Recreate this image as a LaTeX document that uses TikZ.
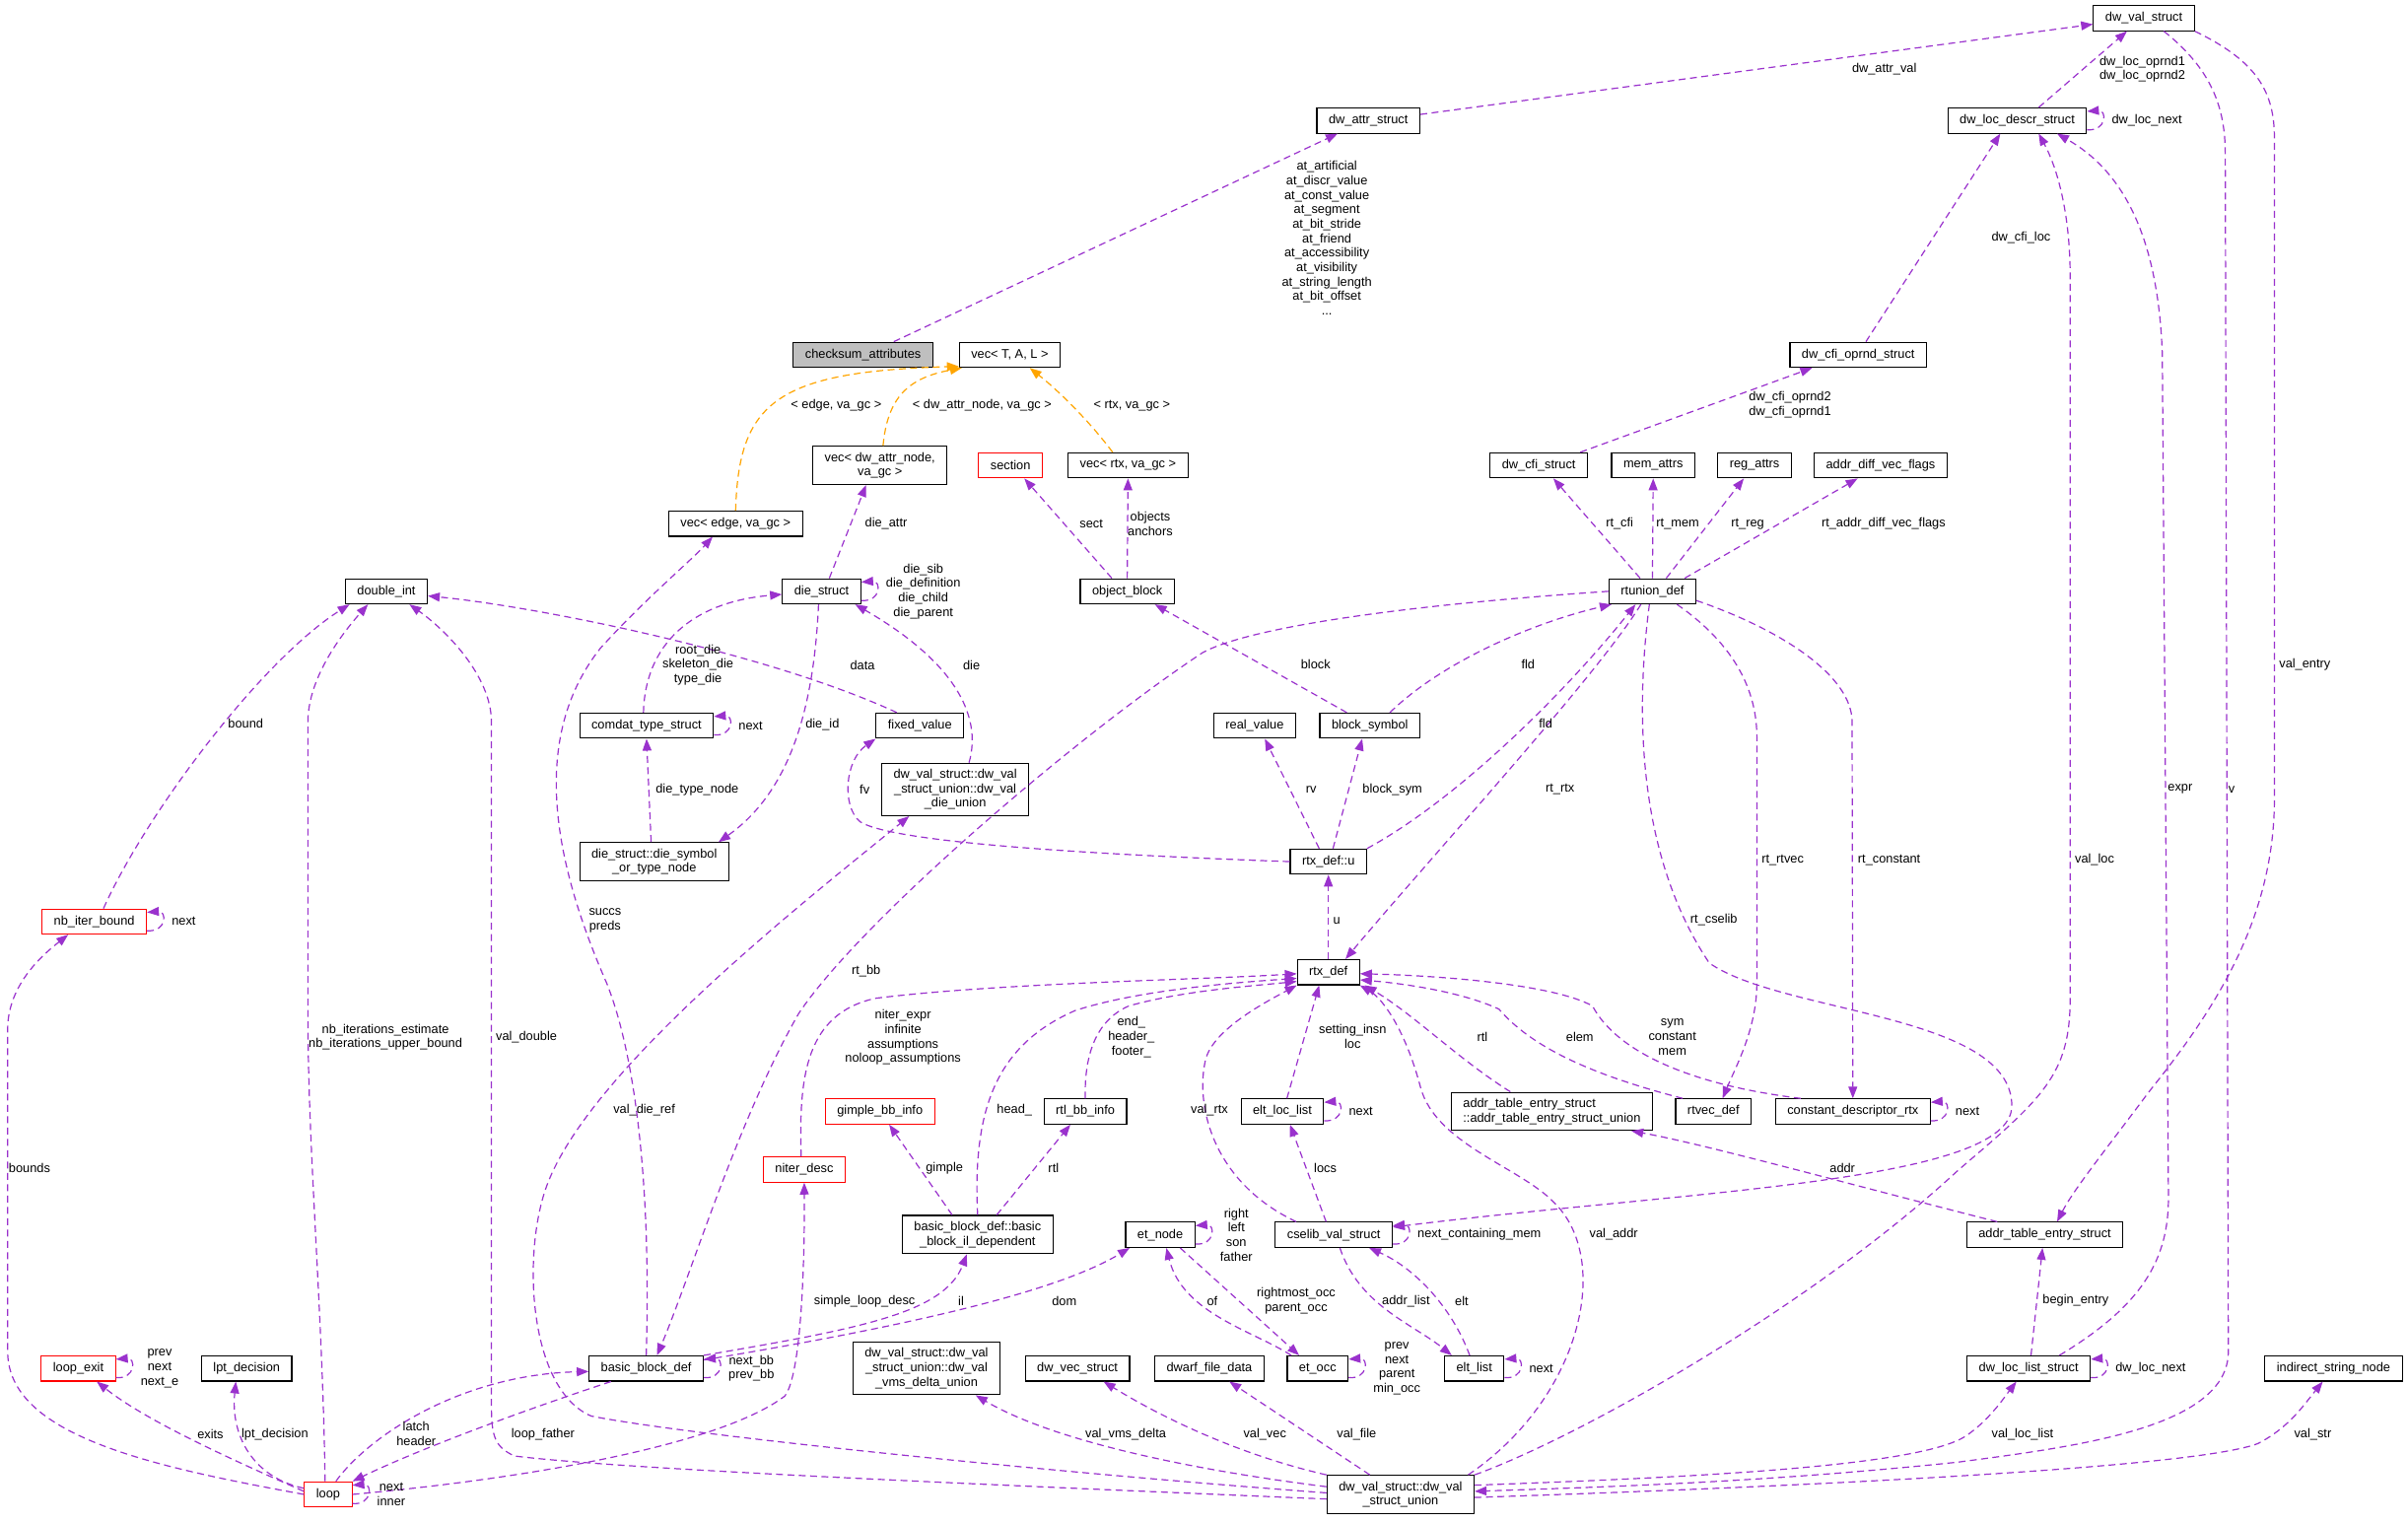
\documentclass[tikz,border=0pt]{standalone}
\usepackage{fontspec}
\setmainfont{Liberation Sans}
\usetikzlibrary{arrows.meta,calc}
\definecolor{relpurple}{HTML}{9A32CD}
\definecolor{tmplorange}{HTML}{FFA500}
\definecolor{rootgray}{HTML}{BFBFBF}
\begin{document}
\begin{tikzpicture}[
  x=1.558pt,y=-1.558pt,
  every node/.style={font=\fontsize{12.8pt}{14.7pt}\selectfont},
  box/.style={draw=black,line width=1.1pt,fill=white,inner xsep=12pt,inner ysep=6pt,minimum height=25.5pt,align=center},
  redbox/.style={box,draw=red},
  rootbox/.style={box,fill=rootgray},
  rel/.style={draw=relpurple,line width=1.2pt,dash pattern=on 7pt off 4.5pt,-{Triangle[length=12pt,width=9pt]}},
  tmpl/.style={rel,draw=tmplorange},
  lbl/.style={align=center,inner sep=0pt}
]
  \useasboundingbox[fill=white] (0,0) rectangle (1568,991);

  \node[box] (dwval) at (1396,11.8) {dw\_val\_struct};
  \node[box] (dwattr) at (891,78.5) {dw\_attr\_struct};
  \node[box] (locdescr) at (1313.5,78.5) {dw\_loc\_descr\_struct};
  \node[rootbox] (checksum) at (562,231) {checksum\_attributes};
  \node[box] (vecT) at (657.5,231) {vec< T, A, L >};
  \node[box] (cfioprnd) at (1210,231) {dw\_cfi\_oprnd\_struct};
  \node[box] (vecattr) at (573,303) {vec< dw\_attr\_node,\\ va\_gc >};
  \node[redbox] (section) at (658,303) {section};
  \node[box] (vecrtx) at (734.5,303) {vec< rtx, va\_gc >};
  \node[box] (cfistruct) at (1002,303) {dw\_cfi\_struct};
  \node[box] (memattrs) at (1076.5,303) {mem\_attrs};
  \node[box] (regattrs) at (1142.5,303) {reg\_attrs};
  \node[box] (addrdiff) at (1224.6,303) {addr\_diff\_vec\_flags};
  \node[box] (vecedge) at (479,341) {vec< edge, va\_gc >};
  \node[box] (doubleint) at (251.6,385) {double\_int};
  \node[box] (diestruct) at (535,385) {die\_struct};
  \node[box] (objblock) at (734,385) {object\_block};
  \node[box] (rtunion) at (1076,385) {rtunion\_def};
  \node[box] (comdat) at (421,472.5) {comdat\_type\_struct};
  \node[box] (fixedval) at (599,472.5) {fixed\_value};
  \node[box] (realval) at (817,472.5) {real\_value};
  \node[box] (blocksym) at (892,472.5) {block\_symbol};
  \node[box] (dieunion) at (622,514) {dw\_val\_struct::dw\_val\\\_struct\_union::dw\_val\\\_die\_union};
  \node[box] (dieref) at (426,561) {die\_struct::die\_symbol\\\_or\_type\_node};
  \node[box] (rtxu) at (865,561) {rtx\_def::u};
  \node[redbox] (nbiter) at (61.4,600) {nb\_iter\_bound};
  \node[box] (rtxdef) at (865,633) {rtx\_def};
  \node[redbox] (gimple) at (573,723.7) {gimple\_bb\_info};
  \node[box] (rtlbb) at (706.7,723.7) {rtl\_bb\_info};
  \node[box] (eltloc) at (835,723.7) {elt\_loc\_list};
  \node[box,align=left] (addrunion) at (1010.5,723.6) {addr\_table\_entry\_struct\\::addr\_table\_entry\_struct\_union};
  \node[box] (rtvec) at (1115.7,723.7) {rtvec\_def};
  \node[box] (constdesc) at (1206.5,723.7) {constant\_descriptor\_rtx};
  \node[redbox] (niter) at (523.7,761.5) {niter\_desc};
  \node[box] (bbil) at (636.6,803.8) {basic\_block\_def::basic\\\_block\_il\_dependent};
  \node[box] (etnode) at (755.5,804) {et\_node};
  \node[box] (cselib) at (868.5,804) {cselib\_val\_struct};
  \node[box] (addrentry) at (1331.5,804) {addr\_table\_entry\_struct};
  \node[redbox] (loopexit) at (51,891) {loop\_exit};
  \node[box] (lpt) at (160.6,891) {lpt\_decision};
  \node[box] (bbdef) at (420.8,891) {basic\_block\_def};
  \node[box] (vmsunion) at (603.3,891) {dw\_val\_struct::dw\_val\\\_struct\_union::dw\_val\\\_vms\_delta\_union};
  \node[box] (dwvec) at (701.6,891) {dw\_vec\_struct};
  \node[box] (dwarffile) at (787.5,891) {dwarf\_file\_data};
  \node[box] (etocc) at (858,891) {et\_occ};
  \node[box] (eltlist) at (960,891) {elt\_list};
  \node[box] (loclist) at (1321,891) {dw\_loc\_list\_struct};
  \node[box] (indirect) at (1519.5,891) {indirect\_string\_node};
  \node[redbox] (loop) at (213.7,973) {loop};
  \node[box] (valunion) at (912,973) {dw\_val\_struct::dw\_val\\\_struct\_union};

  \draw[rel] ($(dwattr.east)+(0,-4)$) -- ($(dwval.west)+(0,4)$);
  \draw[rel] ($(checksum.north)+(20,0)$) -- ($(dwattr.south)+(-20,0)$);
  \draw[tmpl] (vecedge.north) .. controls (481,262) and (505,242) .. ($(vecT.south west)+(0,-1)$);
  \draw[tmpl] ($(vecattr.north)+(2,0)$) .. controls (578,258) and (592,246) .. ($(vecT.south west)+(2,0)$);
  \draw[tmpl] ($(vecrtx.north)+(-10,0)$) .. controls (710,275) and (690,255) .. ($(vecT.south)+(13,0)$);
  \draw[rel] ($(diestruct.north)+(5,0)$) -- ($(vecattr.south)+(-9,0)$);
  \draw[rel] ($(objblock.north)+(-10,0)$) -- ($(section.south)+(9,0)$);
  \draw[rel] (objblock.north) -- (vecrtx.south);
  \draw[rel] ($(cfioprnd.north)+(5,0)$) -- ($(locdescr.south)+(-11,0)$);
  \draw[rel] ($(locdescr.north)+(14,0)$) -- ($(dwval.south)+(-11,0)$);
  \draw[rel] ($(cfistruct.north)+(27,0)$) -- ($(cfioprnd.south)+(-30,0)$);
  \draw[rel] ($(rtunion.north)+(-8,0)$) -- ($(cfistruct.south)+(9.5,0)$);
  \draw[rel] (rtunion.north) -- (memattrs.south);
  \draw[rel] ($(rtunion.north)+(9,0)$) -- ($(regattrs.south)+(-7,0)$);
  \draw[rel] ($(rtunion.north)+(21,0)$) -- ($(addrdiff.south)+(-15,0)$);

  \draw[rel] ($(comdat.north)+(-2,0)$) .. controls (420,420) and (450,392) .. ($(diestruct.west)+(0,2)$);
  \draw[rel] ($(dieref.north)+(-2,0)$) -- (comdat.south);
  \draw[rel] ($(diestruct.south)+(-2,0)$) .. controls (530,460) and (515,515) .. ($(dieref.north east)+(-7,0)$);
  \draw[rel] ($(fixedval.north)+(-15,0)$) .. controls (500,425) and (350,395) .. ($(doubleint.east)+(0,3)$);
  \draw[rel] ($(dieunion.north)+(9,0)$) .. controls (640,465) and (620,430) .. ($(diestruct.south east)+(-4,0)$);

  \draw[rel] (rtxu.west) .. controls (700,556) and (580,548) .. (560,535) .. controls (548,525) and (550,495) .. (fixedval.south west);
  \draw[rel] ($(rtxu.north)+(-6,0)$) -- ($(realval.south)+(6.6,0)$);
  \draw[rel] ($(rtxu.north)+(3,0)$) -- ($(blocksym.south)+(-5,0)$);
  \draw[rel] ($(blocksym.north)+(-15,0)$) -- ($(objblock.south)+(18,0)$);
  \draw[rel] ($(blocksym.north)+(13,0)$) .. controls (940,430) and (1000,405) .. ($(rtunion.south west)+(2,0)$);
  \draw[rel] (rtxu.north east) .. controls (950,520) and (1020,450) .. ($(rtunion.south)+(-11,0)$);
  \draw[rel] (rtxdef.north) -- (rtxu.south);
  \draw[rel] ($(rtunion.south)+(-7.5,0)$) .. controls (1040,440) and (930,560) .. ($(rtxdef.north east)+(-9.5,0)$);
  \draw[rel] (rtunion.west) .. controls (900,395) and (810,410) .. (783,425) .. controls (700,480) and (560,600) .. (520,660) .. controls (480,730) and (450,830) .. ($(bbdef.north)+(7,0)$);
  \draw[rel] ($(rtunion.south)+(16,0)$) .. controls (1130,420) and (1144,450) .. (1144,480) -- (1144,640) .. controls (1144,670) and (1130,695) .. ($(rtvec.north)+(6,0)$);
  \draw[rel] ($(rtunion.east)+(0,6)$) .. controls (1160,410) and (1206,440) .. (1206,470) -- (constdesc.north);
  \draw[rel] ($(rtunion.south)+(-2,0)$) .. controls (1064,470) and (1068,560) .. (1113,627) .. controls (1160,660) and (1310,660) .. (1310,720) .. controls (1310,770) and (1100,775) .. ($(cselib.east)+(0,-5)$);

  \draw[rel] ($(niter.north)+(-2,0)$) .. controls (520,700) and (525,660) .. (570,650) .. controls (650,640) and (780,638) .. ($(rtxdef.west)+(0,1)$);
  \draw[rel] (bbil.north) .. controls (633,720) and (650,680) .. (700,658) .. controls (740,645) and (800,640) .. ($(rtxdef.west)+(0,4)$);
  \draw[rel] (rtlbb.north) .. controls (706,690) and (712,665) .. (735,655) .. controls (770,645) and (815,642) .. ($(rtxdef.west)+(0,6)$);
  \draw[rel] ($(cselib.north west)+(14,0)$) .. controls (790,770) and (778,720) .. (785,690) .. controls (790,670) and (825,652) .. (rtxdef.south west);
  \draw[rel] ($(eltloc.north)+(3,0)$) -- ($(rtxdef.south)+(-6,0)$);
  \draw[rel] ($(addrunion.north)+(-27,0)$) .. controls (950,690) and (920,660) .. ($(rtxdef.south east)+(3,0)$);
  \draw[rel] ($(rtvec.north)+(-20,0)$) .. controls (1045,702) and (1000,685) .. (976,657) .. controls (950,645) and (910,640) .. ($(rtxdef.east)+(0,5)$);
  \draw[rel] ($(constdesc.north)+(-34,0)$) .. controls (1090,705) and (1050,680) .. (1037,655) .. controls (1010,640) and (930,635) .. ($(rtxdef.east)+(0,1)$);
  \draw[rel] ($(valunion.north)+(44,0)$) .. controls (1030,910) and (1050,820) .. (1012,783) .. controls (990,760) and (935,745) .. (925,708) .. controls (915,670) and (900,650) .. (rtxdef.south east);

  \draw[rel] (loop.east) .. controls (350,962) and (470,940) .. (511,909) .. controls (522,895) and (524,820) .. (niter.south);
  \draw[rel] ($(bbil.north)+(-16.6,0)$) -- ($(gimple.south)+(6,0)$);
  \draw[rel] ($(bbil.north)+(12.4,0)$) -- ($(rtlbb.south)+(-9.7,0)$);
  \draw[rel] (bbdef.north east) .. controls (560,865) and (615,855) .. ($(bbil.south)+(-7,0)$);
  \draw[rel] ($(bbdef.north east)+(0,3)$) .. controls (600,862) and (690,840) .. ($(etnode.south west)+(3,0)$);
  \draw[rel] ($(etocc.north west)+(3,0)$) .. controls (815,866) and (770,855) .. ($(etnode.south)+(4,0)$);
  \draw[rel] ($(etnode.south)+(13,0)$) -- ($(etocc.north)+(-12,0)$);
  \draw[rel] ($(cselib.north)+(-5,0)$) -- ($(eltloc.south)+(5,0)$);
  \draw[rel] ($(cselib.south)+(4,0)$) .. controls (885,850) and (920,862) .. ($(eltlist.north west)+(5,0)$);
  \draw[rel] ($(eltlist.north)+(-3,0)$) .. controls (945,850) and (920,825) .. ($(cselib.south)+(23,0)$);
  \draw[rel] ($(addrentry.north)+(-31,0)$) .. controls (1200,770) and (1110,745) .. ($(addrunion.south east)+(-14,0)$);
  \draw[rel] ($(loclist.north)+(1.5,0)$) -- ($(addrentry.south)+(-1.5,0)$);
  \draw[rel] ($(loclist.north)+(20,0)$) .. controls (1395,850) and (1412,820) .. (1412,780) -- (1408,230) .. controls (1405,150) and (1380,110) .. ($(locdescr.south)+(26,0)$);
  \draw[rel] (valunion.north east) .. controls (1030,935) and (1180,850) .. (1275,762) .. controls (1330,715) and (1348,700) .. (1348,650) -- (1348,180) .. controls (1348,140) and (1340,110) .. ($(locdescr.south)+(14,0)$);
  \draw[rel] ($(dwval.south)+(13,0)$) .. controls (1440,45) and (1449,70) .. (1449,100) -- (1451,880) .. controls (1451,930) and (1350,942) .. (1275,952) .. controls (1150,965) and (1050,968) .. ($(valunion.east)+(0,-2)$);
  \draw[rel] (dwval.south east) .. controls (1470,40) and (1481,60) .. (1481,90) -- (1481,520) .. controls (1481,600) and (1440,660) .. (1400,710) .. controls (1370,750) and (1350,775) .. ($(addrentry.north)+(8,0)$);
  \draw[rel] ($(valunion.east)+(0,-6)$) .. controls (1100,962) and (1250,955) .. (1280,935) .. controls (1295,925) and (1305,910) .. ($(loclist.south)+(-8,0)$);
  \draw[rel] ($(valunion.east)+(0,2)$) .. controls (1200,967) and (1430,955) .. (1470,940) .. controls (1490,930) and (1500,915) .. ($(indirect.south)+(-7,0)$);
  \draw[rel] ($(valunion.west)+(0,-5)$) .. controls (760,955) and (680,935) .. ($(vmsunion.south)+(32,0)$);
  \draw[rel] (valunion.north west) .. controls (810,948) and (760,925) .. ($(dwvec.south)+(17,0)$);
  \draw[rel] ($(valunion.north)+(-20,0)$) -- ($(dwarffile.south)+(13,0)$);
  \draw[rel] ($(valunion.west)+(0,3)$) .. controls (600,965) and (400,956) .. (335,948) .. controls (322,942) and (320,935) .. (320,915) -- (320,470) .. controls (320,440) and (290,410) .. ($(doubleint.south)+(15,0)$);
  \draw[rel] ($(valunion.west)+(0,-1)$) .. controls (700,960) and (450,935) .. (385,922) .. controls (345,905) and (340,820) .. (355,775) .. controls (380,700) and (520,590) .. ($(dieunion.south)+(-30,0)$);

  \draw[rel] (loop.west) .. controls (100,955) and (5,935) .. (5,880) -- (5,670) .. controls (5,640) and (30,620) .. ($(nbiter.south)+(-17,0)$);
  \draw[rel] ($(loop.north)+(-2,0)$) .. controls (210,850) and (200.5,750) .. (200.5,660) -- (200.5,470) .. controls (200.5,440) and (225,410) .. ($(doubleint.south)+(-12,0)$);
  \draw[rel] ($(nbiter.north)+(6,0)$) .. controls (95,530) and (170,430) .. ($(doubleint.south west)+(3,0)$);
  \draw[rel] ($(loop.west)+(0,-2)$) .. controls (150,950) and (95,925) .. ($(loopexit.south)+(12,0)$);
  \draw[rel] ($(loop.west)+(0,-4)$) .. controls (165,962) and (150,935) .. ($(lpt.south)+(-7,0)$);
  \draw[rel] ($(loop.north)+(5,0)$) .. controls (240,935) and (300,895) .. ($(bbdef.west)+(0,2)$);
  \draw[rel] ($(bbdef.south)+(-23,0)$) .. controls (330,922) and (270,945) .. (loop.north east);
  \draw[rel] (bbdef.north) .. controls (424,780) and (415,690) .. (395,640) .. controls (360,560) and (345,480) .. (391,422) .. controls (420,390) and (450,365) .. ($(vecedge.south)+(-15,0)$);

  \foreach \nd/\txt in {locdescr/dw\_loc\_next, diestruct/{die\_sib\\die\_definition\\die\_child\\die\_parent},
      comdat/next, nbiter/next, constdesc/next, eltloc/next, etnode/{right\\left\\son\\father},
      cselib/next\_containing\_mem, loopexit/{prev\\next\\next\_e}, bbdef/{next\_bb\\prev\_bb},
      etocc/{prev\\next\\parent\\min\_occ}, eltlist/next, loclist/dw\_loc\_next, loop/{next\\inner}} {
    \draw[rel] ($(\nd.east)+(0,6)$) .. controls +(13,1) and +(13,-1) .. ($(\nd.east)+(0,-6)$);
    \node[lbl,anchor=west] (\nd-self) at ($(\nd.east)+(16,0)$) {\txt};
  }

  \node[lbl] (l-attrval) at (1227,45) {dw\_attr\_val};
  \node[lbl] (l-checksum) at (864,155) {at\_artificial\\at\_discr\_value\\at\_const\_value\\at\_segment\\at\_bit\_stride\\at\_friend\\at\_accessibility\\at\_visibility\\at\_string\_length\\at\_bit\_offset\\...};
  \node[lbl] (l-tedge) at (544.5,264.2) {< edge, va\_gc >};
  \node[lbl] (l-tattr) at (639.5,264.2) {< dw\_attr\_node, va\_gc >};
  \node[lbl] (l-trtx) at (737,264.2) {< rtx, va\_gc >};
  \node[lbl] (l-dieattr) at (577,341) {die\_attr};
  \node[lbl] (l-sect) at (710.6,341) {sect};
  \node[lbl] (l-objects) at (749,341) {objects\\anchors};
  \node[lbl] (l-cfiloc) at (1316,154.6) {dw\_cfi\_loc};
  \node[lbl] (l-oprnd) at (1395,45) {dw\_loc\_oprnd1\\dw\_loc\_oprnd2};
  \node[lbl] (l-cfioprnd) at (1165.6,263.7) {dw\_cfi\_oprnd2\\dw\_cfi\_oprnd1};
  \node[lbl] (l-rtcfi) at (1054.6,341) {rt\_cfi};
  \node[lbl] (l-rtmem) at (1092.5,341) {rt\_mem};
  \node[lbl] (l-rtreg) at (1138,341) {rt\_reg};
  \node[lbl,anchor=west] (l-rtaddr) at (1186,341) {rt\_addr\_diff\_vec\_flags};
  \node[lbl] (l-rootdie) at (454.5,433) {root\_die\\skeleton\_die\\type\_die};
  \node[lbl] (l-dietype) at (454,514) {die\_type\_node};
  \node[lbl] (l-dieid) at (535.5,471.7) {die\_id};
  \node[lbl] (l-data) at (561.6,433) {data};
  \node[lbl] (l-die) at (632.6,433) {die};
  \node[lbl] (l-fv) at (563,514) {fv};
  \node[lbl] (l-rv) at (853.7,514) {rv};
  \node[lbl] (l-blocksym) at (906.7,514) {block\_sym};
  \node[lbl] (l-block) at (856.7,432.6) {block};
  \node[lbl] (l-fld) at (995,432.6) {fld};
  \node[lbl] (l-fldu) at (1006.5,471) {fld};
  \node[lbl,anchor=west] (l-u) at (868,599.6) {u};
  \node[lbl] (l-rtrtx) at (1015.8,514) {rt\_rtx};
  \node[lbl] (l-rtbb) at (564,632) {rt\_bb};
  \node[lbl,anchor=west] (l-rtrtvec) at (1147,560) {rt\_rtvec};
  \node[lbl,anchor=west] (l-rtconst) at (1209.7,560) {rt\_constant};
  \node[lbl] (l-rtcselib) at (1116,599) {rt\_cselib};
  \node[lbl] (l-niterexpr) at (588,675.5) {niter\_expr\\infinite\\assumptions\\noloop\_assumptions};
  \node[lbl] (l-head) at (660.6,722.7) {head\_};
  \node[lbl] (l-endhdr) at (736.7,675.3) {end\_\\header\_\\footer\_};
  \node[lbl] (l-setinsn) at (880.8,675) {setting\_insn\\loc};
  \node[lbl] (l-valrtx) at (787.5,722.7) {val\_rtx};
  \node[lbl] (l-rtl) at (965.3,675.3) {rtl};
  \node[lbl] (l-elem) at (1028.7,675.3) {elem};
  \node[lbl] (l-sym) at (1089,675.4) {sym\\constant\\mem};
  \node[lbl] (l-valaddr) at (1050.8,803.6) {val\_addr};
  \node[lbl] (l-simple) at (563,847.2) {simple\_loop\_desc};
  \node[lbl] (l-gimple) at (615,760.6) {gimple};
  \node[lbl] (l-rtlbb) at (686,760.6) {rtl};
  \node[lbl] (l-il) at (625.8,847) {il};
  \node[lbl] (l-dom) at (693,847) {dom};
  \node[lbl] (l-of) at (789.4,847) {of};
  \node[lbl] (l-rightmost) at (844,847) {rightmost\_occ\\parent\_occ};
  \node[lbl] (l-locs) at (863,760.6) {locs};
  \node[lbl] (l-addrlist) at (915.5,847) {addr\_list};
  \node[lbl] (l-elt) at (951.8,847) {elt};
  \node[lbl] (l-addr) at (1199.7,760.6) {addr};
  \node[lbl,anchor=west] (l-begin) at (1330,847) {begin\_entry};
  \node[lbl,anchor=west] (l-expr) at (1411.5,514) {expr};
  \node[lbl,anchor=west] (l-valloc) at (1351,560) {val\_loc};
  \node[lbl,anchor=west] (l-v) at (1451,514) {v};
  \node[lbl,anchor=west] (l-valentry) at (1484,433) {val\_entry};
  \node[lbl] (l-loclist) at (1317,934) {val\_loc\_list};
  \node[lbl] (l-valstr) at (1506,934) {val\_str};
  \node[lbl] (l-vms) at (733,934) {val\_vms\_delta};
  \node[lbl] (l-valvec) at (823.6,934) {val\_vec};
  \node[lbl] (l-valfile) at (883.4,934) {val\_file};
  \node[lbl,anchor=west] (l-valdouble) at (322.8,675.3) {val\_double};
  \node[lbl] (l-dieref) at (419.5,722.7) {val\_die\_ref};
  \node[lbl] (l-nbiter) at (251,675.3) {nb\_iterations\_estimate\\nb\_iterations\_upper\_bound};
  \node[lbl,anchor=west] (l-bounds) at (5.6,760.6) {bounds};
  \node[lbl] (l-bound) at (160,471) {bound};
  \node[lbl] (l-exits) at (137,934) {exits};
  \node[lbl] (l-lpt) at (179,934) {lpt\_decision};
  \node[lbl] (l-latch) at (271,933.5) {latch\\header};
  \node[lbl] (l-father) at (353.6,934) {loop\_father};
  \node[lbl] (l-succs) at (394,599.5) {succs\\preds};
\end{tikzpicture}
\end{document}
